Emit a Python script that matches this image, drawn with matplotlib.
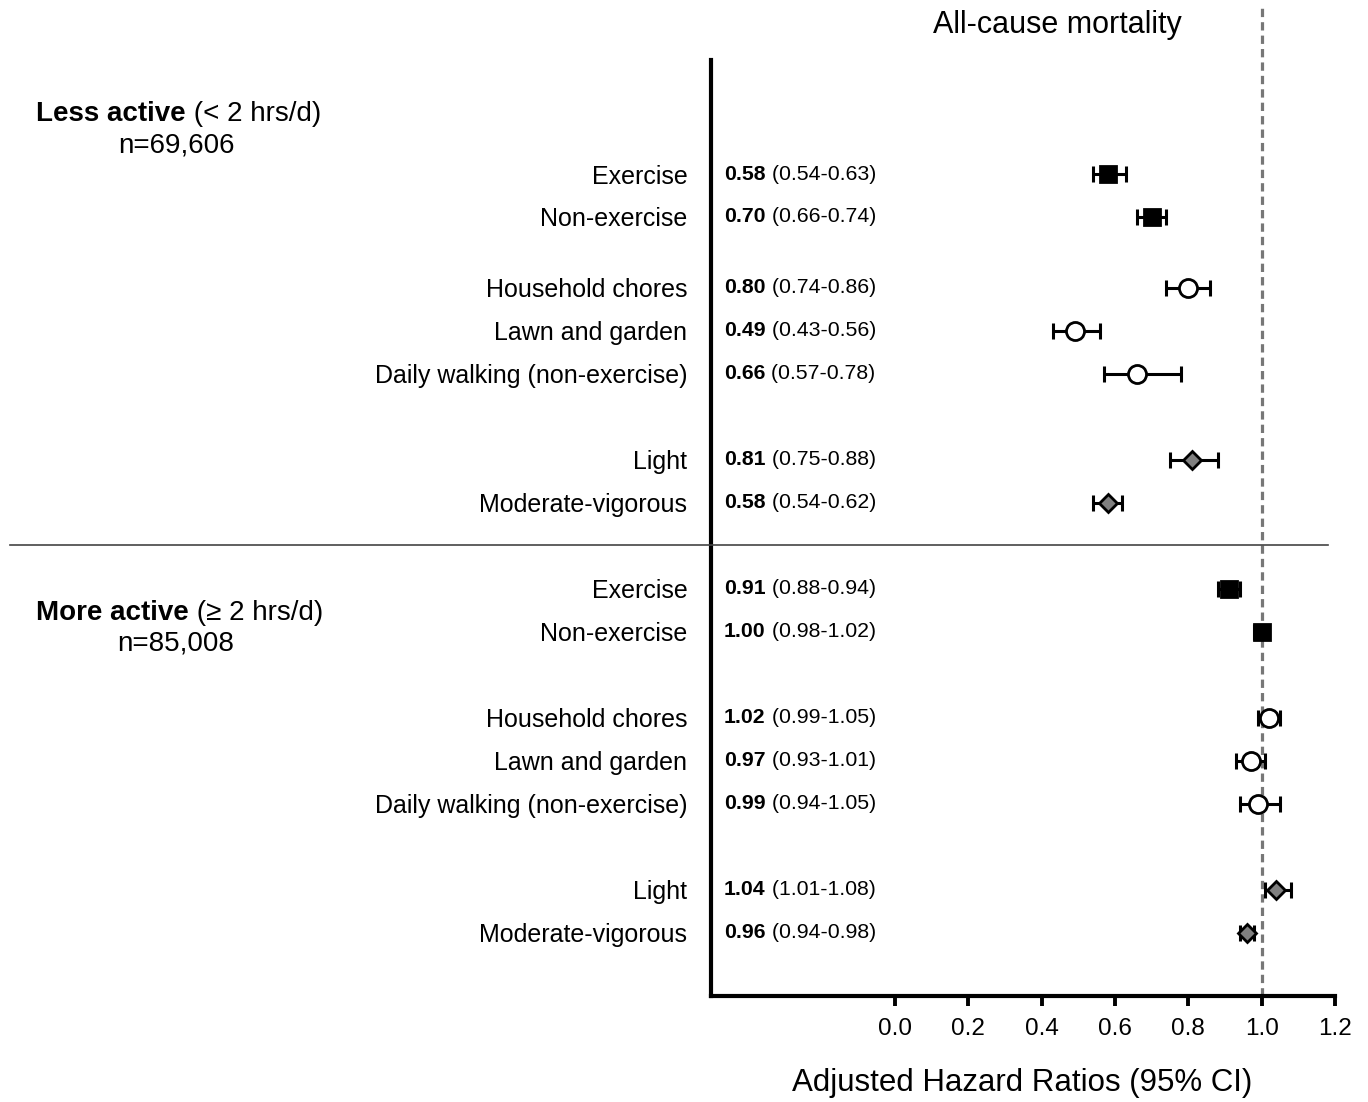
import numpy as np
import matplotlib.pyplot as plt
from matplotlib.lines import Line2D

plt.rcParams['font.family'] = ['Liberation Sans', 'DejaVu Sans']

labels = ['Exercise', 'Non-exercise', 'Household chores', 'Lawn and garden',
          'Daily walking (non-exercise)', 'Light', 'Moderate-vigorous']
kinds = ['type', 'type', 'domain', 'domain', 'domain', 'intensity', 'intensity']

less_hr = [0.58, 0.70, 0.80, 0.49, 0.66, 0.81, 0.58]
less_lo = [0.54, 0.66, 0.74, 0.43, 0.57, 0.75, 0.54]
less_hi = [0.63, 0.74, 0.86, 0.56, 0.78, 0.88, 0.62]

more_hr = [0.91, 1.00, 1.02, 0.97, 0.99, 1.04, 0.96]
more_lo = [0.88, 0.98, 0.99, 0.93, 0.94, 1.01, 0.94]
more_hi = [0.94, 1.02, 1.05, 1.01, 1.05, 1.08, 0.98]

groups = [('Less active', ' (< 2 hrs/d)', 'n=69,606'),
          ('More active', ' (\u2265 2 hrs/d)', 'n=85,008')]

xticks = [0.0, 0.2, 0.4, 0.6, 0.8, 1.0, 1.2]

styles = {
    'type': dict(marker='s', ms=12, mfc='black', mec='black'),
    'domain': dict(marker='o', ms=13, mfc='white', mec='black'),
    'intensity': dict(marker='D', ms=9, mfc='#808080', mec='black'),
}

# row layout (units of one row spacing)
rows_less = np.array([0, 1, 2.65, 3.65, 4.65, 6.65, 7.65])
rows_more = np.array([0, 1, 3, 4, 5, 7, 8]) + 9.65

W, H = 1368, 1102
fig = plt.figure(figsize=(W / 100, H / 100), dpi=100)
ax = fig.add_axes([711 / W, 1 - 996 / H, (1335 - 711) / W, (996 - 60) / H])

ax.set_xlim(-0.502, 1.2)
ax.set_ylim((996 - 174) / 43, (60 - 174) / 43)

for rows, hr, lo, hi in [(rows_less, less_hr, less_lo, less_hi),
                         (rows_more, more_hr, more_lo, more_hi)]:
    for y, h, l, u, k in zip(rows, hr, lo, hi, kinds):
        ax.errorbar(h, y, xerr=[[h - l], [u - h]], fmt='none', ecolor='black',
                    elinewidth=2.2, capsize=5.8, capthick=2.2)
        ax.plot(h, y, ls='none', mew=2, zorder=3, **styles[k])
        t = ax.text(0.021, y, f'{h:.2f}', transform=ax.get_yaxis_transform(),
                    fontsize=15.3, fontweight='bold', ha='left', va='center')
        ax.annotate(f' ({l:.2f}-{u:.2f})', xy=(1, 0.5), xycoords=t,
                    fontsize=15.3, ha='left', va='center')

ax.axvline(1.0, ymin=0, ymax=(996 - 5) / (996 - 60), color='#777777', lw=2.3,
           ls=(0, (2.6, 1.6)), clip_on=False, zorder=1)

ax.set_yticks(np.concatenate([rows_less, rows_more]))
ax.set_yticklabels(labels + labels, fontsize=18)
ax.tick_params(axis='y', length=0, pad=17)

ax.set_xticks(xticks)
ax.set_xticklabels([f'{v:.1f}' for v in xticks])
ax.tick_params(axis='x', length=7, width=2.8, pad=9, labelsize=17.5)

for s in ['top', 'right']:
    ax.spines[s].set_visible(False)
for s in ['left', 'bottom']:
    ax.spines[s].set_linewidth(3)

# separator between groups
fig.add_artist(Line2D([10 / W, 1328 / W], [1 - 545 / H] * 2, color='#444444', lw=1.2))

# group labels
for (bold, rest, n), yb, yn in zip(groups, [114, 613], [145, 644]):
    t = fig.text(36 / W, 1 - yb / H, bold, fontsize=20, fontweight='bold',
                 ha='left', va='center')
    fig.add_artist(plt.Annotation(rest, xy=(1, 0.5), xycoords=t, fontsize=20,
                                  ha='left', va='center'))
    fig.text(176 / W, 1 - yn / H, n, fontsize=20, ha='center', va='center')

fig.text(1057 / W, 1 - 25 / H, 'All-cause mortality', fontsize=22, ha='center', va='center')
fig.text(1022 / W, 1 - 1083 / H, 'Adjusted Hazard Ratios (95% CI)', fontsize=22.5,
         ha='center', va='center')

fig.savefig('out.png', dpi=100)
